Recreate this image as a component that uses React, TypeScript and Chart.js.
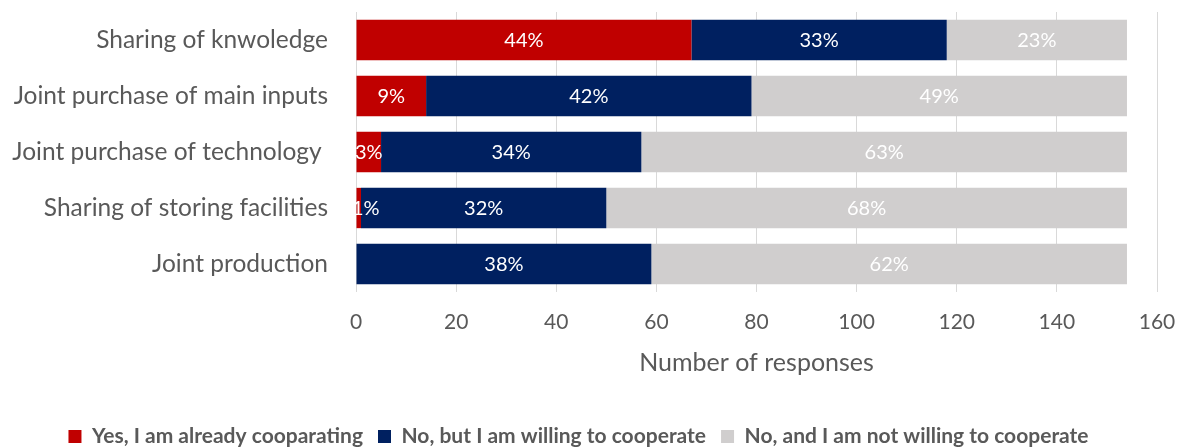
import { useEffect, useRef } from "react";
import { Chart, registerables } from "chart.js";

Chart.register(...registerables);

const categories = [
  "Sharing of knwoledge",
  "Joint purchase of main inputs",
  "Joint purchase of technology ",
  "Sharing of storing facilities",
  "Joint production",
];
const seriesNames = [
  "Yes, I am already cooparating",
  "No, but I am willing to cooperate",
  "No, and I am not willing to cooperate",
];
const yesValues = [67, 14, 5, 1, 0];
const willingValues = [51, 65, 52, 49, 59];
const notWillingValues = [36, 75, 97, 104, 95];
const yesLabels = ["44%", "9%", "3%", "1%", ""];
const willingLabels = ["33%", "42%", "34%", "32%", "38%"];
const notWillingLabels = ["23%", "49%", "63%", "68%", "62%"];
const xMin = 0;
const xMax = 160;
const xStep = 20;
const xTitle = "Number of responses";

const FONT = "Lato";
const TEXT = "#595959";

const labelPlugin = {
  id: "segLabels",
  afterDatasetsDraw(chart: any) {
    const ctx = chart.ctx;
    const area = chart.chartArea;
    ctx.save();
    ctx.beginPath();
    ctx.rect(area.left, area.top, area.right - area.left, area.bottom - area.top);
    ctx.clip();
    ctx.font = `20px ${FONT}`;
    ctx.fillStyle = "#ffffff";
    ctx.textAlign = "center";
    ctx.textBaseline = "middle";
    chart.data.datasets.forEach((ds: any, di: number) => {
      const meta = chart.getDatasetMeta(di);
      meta.data.forEach((el: any, i: number) => {
        const txt = ds.segLabels[i];
        if (!txt) return;
        const p = el.getProps(["x", "y", "base"], true);
        const w = ctx.measureText(txt).width;
        let cx = (p.x + p.base) / 2;
        cx = Math.max(cx, area.left + w / 2 - 4);
        ctx.fillText(txt, cx, p.y + 1);
      });
    });
    ctx.restore();
  },
};

const legendShift = {
  id: "legendShift",
  afterLayout(chart: any) {
    if (chart.legend) {
      chart.legend.top += 9;
      chart.legend.bottom += 9;
    }
  },
};

export default function App() {
  const ref = useRef<HTMLCanvasElement | null>(null);
  useEffect(() => {
    if (!ref.current) return;
    const chart = new Chart(ref.current, {
      type: "bar",
      data: {
        labels: categories,
        datasets: [
          { label: seriesNames[0], data: yesValues, backgroundColor: "#C00000", segLabels: yesLabels } as any,
          { label: seriesNames[1], data: willingValues, backgroundColor: "#002060", segLabels: willingLabels } as any,
          { label: seriesNames[2], data: notWillingValues, backgroundColor: "#D0CECE", segLabels: notWillingLabels } as any,
        ],
      },
      options: {
        indexAxis: "y",
        responsive: false,
        animation: false,
        layout: { padding: { top: 12, right: 22, left: 0, bottom: 0 } },
        datasets: { bar: { categoryPercentage: 1, barPercentage: 0.72 } },
        scales: {
          x: {
            stacked: true,
            min: xMin,
            max: xMax,
            ticks: { stepSize: xStep, color: TEXT, font: { family: FONT, size: 21 }, padding: 18 },
            grid: { color: "#D9D9D9", drawTicks: false, lineWidth: 1 },
            border: { display: false },
            title: {
              display: true,
              text: xTitle,
              color: TEXT,
              font: { family: FONT, size: 25 },
              padding: { top: 0, bottom: 24 },
            },
            afterFit(scale: any) {
              scale.height = 110;
              scale.paddingLeft = 0;
              scale.paddingRight = 0;
            },
          },
          y: {
            stacked: true,
            ticks: { color: TEXT, font: { family: FONT, size: 24.5 }, padding: 28 },
            grid: { display: false, drawTicks: false },
            border: { display: false },
            afterFit(scale: any) {
              scale.width = 356;
              scale.paddingTop = 0;
              scale.paddingBottom = 0;
            },
          },
        },
        plugins: {
          legend: {
            position: "bottom",
            labels: {
              color: TEXT,
              font: { family: FONT, size: 21, weight: "bold" },
              boxWidth: 13,
              boxHeight: 13,
              padding: 15,
            },
          },
          tooltip: { enabled: false },
        },
      },
      plugins: [labelPlugin, legendShift],
    });
    return () => chart.destroy();
  }, []);
  return (
    <div style={{ position: "absolute", left: 0, top: 0, width: 1179, height: 448, background: "#fff" }}>
      <canvas ref={ref} width={1179} height={448} style={{ display: "block" }} />
    </div>
  );
}
